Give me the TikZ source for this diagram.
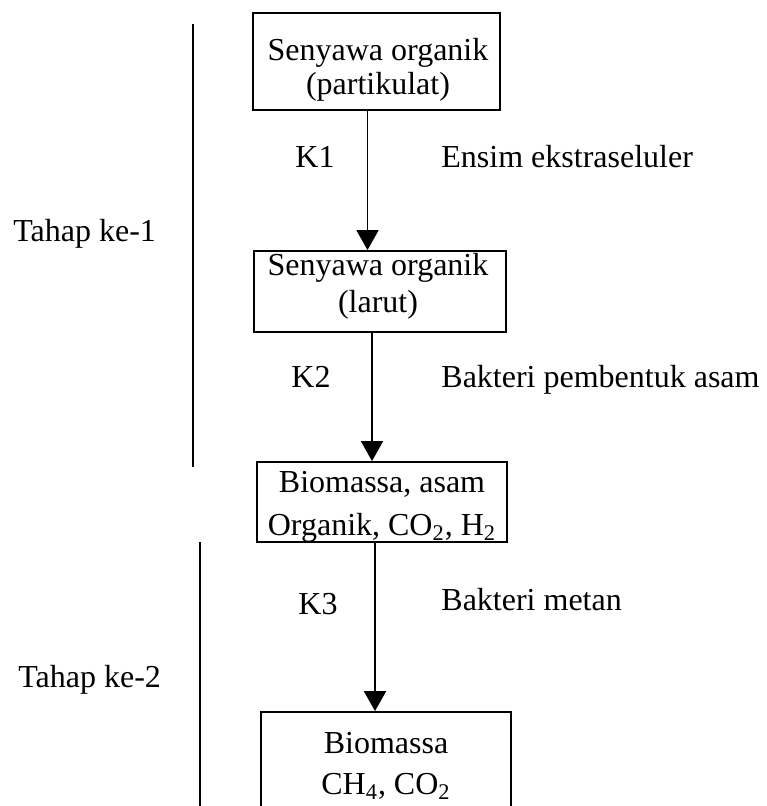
\documentclass[tikz,border=0pt]{standalone}
\usepackage{fontspec}
\setmainfont{Liberation Serif}
\usetikzlibrary{arrows.meta}

\tikzset{
  box/.style={draw, line width=0.9pt, inner sep=0pt},
  boxtext/.style={align=center, inner sep=0pt},
  flow/.style={line width=0.9pt, -{Triangle[length=10pt,width=11pt]}},
  lbl/.style={inner sep=0pt},
}

\begin{document}
\begin{tikzpicture}[x=0.5pt, y=-0.5pt, font=\fontsize{16}{19}\selectfont]
    \useasboundingbox (0,0) rectangle (766,806);
    \clip (0,0) rectangle (766,806);

    % Stage dividers
    \draw[line width=1.3pt] (193,24) -- (193,467);
    \draw[line width=1.3pt] (200,542) -- (200,830);

    % Boxes
    \node[box, minimum width=123.5pt, minimum height=48.5pt] (b1) at (376.5,61.5) {};
    \node[box, minimum width=126pt, minimum height=40.5pt] (b2) at (380,291.5) {};
    \node[box, minimum width=125pt, minimum height=40pt] (b3) at (382,502) {};
    \node[box, minimum width=125pt, minimum height=59pt] (b4) at (386,771) {};

    % Box texts
    \node[boxtext] (t1) at (378,69.5) {Senyawa organik\\[-2pt](partikulat)};
    \node[boxtext] (t2) at (378,286) {Senyawa organik\\[-0.5pt](larut)};
    \node[boxtext] (t3) at (382,507) {Biomassa, asam\\[2.5pt]Organik, CO\textsubscript{2}, H\textsubscript{2}};
    \node[boxtext] (t4) at (386,766) {Biomassa\\[1.5pt]CH\textsubscript{4}, CO\textsubscript{2}};

    % Arrows
    \draw[flow] ([xshift=-4.5pt]b1.south) -- ([xshift=-4.5pt]b1.south |- b2.north);
    \draw[flow] ([xshift=-4pt]b2.south) -- ([xshift=-4pt]b2.south |- b3.north);
    \draw[flow] ([xshift=-3.5pt]b3.south) -- ([xshift=-3.5pt]b3.south |- b4.north);

    % Rate constants and agents
    \node[lbl, anchor=base] (k1) at (315,168) {K1};
    \node[lbl, anchor=base west] (a1) at (441,168) {Ensim ekstraseluler};
    \node[lbl, anchor=base] (k2) at (311,387) {K2};
    \node[lbl, anchor=base west] (a2) at (441,387) {Bakteri pembentuk asam};
    \node[lbl, anchor=base] (k3) at (318,614) {K3};
    \node[lbl, anchor=base west] (a3) at (441,610) {Bakteri metan};

    % Stages
    \node[lbl, anchor=base west] (s1) at (13,242) {Tahap ke-1};
    \node[lbl, anchor=base west] (s2) at (18,687) {Tahap ke-2};
\end{tikzpicture}
\end{document}
